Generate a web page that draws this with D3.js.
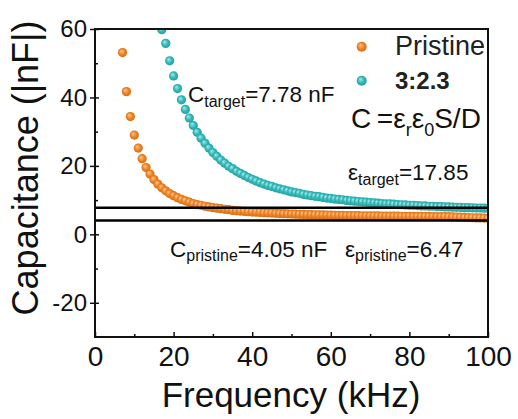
<!DOCTYPE html>
<html>
<head>
<meta charset="utf-8">
<script src="https://cdn.jsdelivr.net/npm/d3@7"></script>
<style>
  body { margin: 0; background: #fff; }
  svg { display: block; }
</style>
</head>
<body>
<div id="chart"></div>
<script>
// Frequency sweep (kHz) and capacitance (nF)
const freq = [7,8,9,10,11,12,13,14,15,16,17,18,19,20,21,22,23,24,25,26,27,28,29,30,31,32,33,34,35,36,37,38,39,40,41,42,43,44,45,46,47,48,49,50,51,52,53,54,55,56,57,58,59,60,61,62,63,64,65,66,67,68,69,70,71,72,73,74,75,76,77,78,79,80,81,82,83,84,85,86,87,88,89,90,91,92,93,94,95,96,97,98,99,100];

const pristineC = [53.1,41.7,34.4,29.0,25.2,22.1,19.5,17.6,16.0,14.7,
  13.6,12.7,11.9,11.3,10.7,10.2,9.8,9.4,9.0,8.7,
  8.5,8.2,8.0,7.8,7.65,7.5,7.3,7.2,7.0,6.9,
  6.8,6.7,6.6,6.5,6.45,6.4,6.3,6.25,6.2,6.13,
  6.08,6.03,5.98,5.94,5.9,5.86,5.82,5.78,5.75,5.72,
  5.69,5.66,5.63,5.6,5.58,5.56,5.54,5.51,5.49,5.47,
  5.45,5.43,5.42,5.4,5.39,5.37,5.36,5.34,5.33,5.32,
  5.3,5.29,5.28,5.27,5.26,5.25,5.24,5.23,5.22,5.21,
  5.2,5.19,5.18,5.17,5.1,5.05,5.0,4.95,4.9,4.85,
  4.8,4.8,4.75,4.7];

const targetC = [null,null,null,null,null,null,null,null,null,null,
  59.8,55.8,50.7,46.3,42.6,39.3,36.5,34.0,31.8,29.8,
  28.1,26.6,25.2,23.9,22.8,21.7,20.8,19.9,19.2,18.4,
  17.8,17.2,16.6,16.1,15.6,15.1,14.7,14.3,14.0,13.6,
  13.3,13.0,12.7,12.4,12.2,12.0,11.7,11.5,11.3,11.1,
  11.0,10.8,10.6,10.5,10.3,10.2,10.1,9.9,9.8,9.7,
  9.6,9.5,9.4,9.3,9.2,9.1,9.0,8.9,8.9,8.8,
  8.7,8.65,8.6,8.5,8.5,8.4,8.3,8.3,8.2,8.2,
  8.1,8.1,8.0,8.0,7.95,7.9,7.9,7.8,7.8,7.75,
  7.7,7.7,7.65,7.6];

const refLines = [7.78, 4.05];
const xTicks = [0, 20, 40, 60, 80, 100];
const xMinor = [10, 30, 50, 70, 90];
const yTicks = [60, 40, 20, 0, -20];
const yMinor = [50, 30, 10, -10];

const width = 518, height = 419;
const font = "'Liberation Sans', Arial, sans-serif";

const svg = d3.select('#chart').append('svg')
    .attr('width', width)
    .attr('height', height)
    .style('font-family', font);

const x = d3.scaleLinear().domain([0, 100]).range([95, 488]);
const y = d3.scaleLinear().domain([-30, 60]).range([337, 29]);

// sphere-like markers
const defs = svg.append('defs');
function sphere(id, light, mid, dark) {
    const g = defs.append('radialGradient').attr('id', id)
        .attr('cx', '50%').attr('cy', '50%').attr('r', '55%')
        .attr('fx', '35%').attr('fy', '32%');
    g.append('stop').attr('offset', '0%').attr('stop-color', light);
    g.append('stop').attr('offset', '55%').attr('stop-color', mid);
    g.append('stop').attr('offset', '100%').attr('stop-color', dark);
}
sphere('gOrange', '#ffc68c', '#f08424', '#d2690e');
sphere('gCyan', '#a6ecec', '#33b9b9', '#1f9c9c');

defs.append('clipPath').attr('id', 'plotClip')
    .append('rect')
    .attr('x', x(0)).attr('y', y(60))
    .attr('width', x(100) - x(0)).attr('height', y(-30) - y(60));

// axes
const xAxis = svg.append('g')
    .attr('transform', `translate(0,${y(-30)})`)
    .call(d3.axisBottom(x).tickValues(xTicks).tickSize(-5).tickPadding(9.5).tickFormat(d => String(d)));
svg.append('g')
    .attr('transform', `translate(0,${y(-30)})`)
    .call(d3.axisBottom(x).tickValues(xMinor).tickSize(-3).tickFormat(''));

const yAxis = svg.append('g')
    .attr('transform', `translate(${x(0)},0)`)
    .call(d3.axisLeft(y).tickValues(yTicks).tickSize(5).tickPadding(3).tickFormat(d => String(d)));
svg.append('g')
    .attr('transform', `translate(${x(0)},0)`)
    .call(d3.axisLeft(y).tickValues(yTicks).tickSize(-4).tickFormat(''));
svg.append('g')
    .attr('transform', `translate(${x(0)},0)`)
    .call(d3.axisLeft(y).tickValues(yMinor).tickSize(-3).tickFormat(''));

svg.selectAll('.domain').remove();
svg.selectAll('.tick line').attr('stroke', '#111').attr('stroke-width', 1.5);
xAxis.selectAll('text').attr('font-size', 28).attr('font-family', font).attr('fill', '#111');
yAxis.selectAll('text').attr('font-size', 24).attr('font-family', font).attr('fill', '#111');

// data points
const plot = svg.append('g').attr('clip-path', 'url(#plotClip)');
const series = [
    { values: pristineC, fill: 'url(#gOrange)' },
    { values: targetC, fill: 'url(#gCyan)' }
];
series.forEach(s => {
    plot.append('g').selectAll('circle')
        .data(freq.map((f, i) => [f, s.values[i]]).filter(d => d[1] != null))
        .join('circle')
        .attr('cx', d => x(d[0]))
        .attr('cy', d => y(d[1]))
        .attr('r', 4.6)
        .attr('fill', s.fill);
});

// reference capacitance lines
plot.selectAll('line.ref')
    .data(refLines)
    .join('line')
    .attr('class', 'ref')
    .attr('x1', x(0)).attr('x2', x(100))
    .attr('y1', d => y(d)).attr('y2', d => y(d))
    .attr('stroke', '#000')
    .attr('stroke-width', 2.4);

// frame
svg.append('rect')
    .attr('x', x(0)).attr('y', y(60))
    .attr('width', x(100) - x(0)).attr('height', y(-30) - y(60))
    .attr('fill', 'none')
    .attr('stroke', '#111')
    .attr('stroke-width', 2);

// text with subscripts
function richText(px, py, size, subSize, subShift, parts, weight) {
    const t = svg.append('text')
        .attr('x', px).attr('y', py)
        .attr('font-size', size)
        .attr('font-weight', weight || 'normal')
        .attr('fill', '#111');
    let shift = 0;
    parts.forEach(([s, sub]) => {
        const dy = sub ? subShift : 0;
        t.append('tspan')
            .attr('dy', dy - shift)
            .attr('font-size', sub ? subSize : size)
            .text(s);
        shift = dy;
    });
    return t;
}

richText(188, 101.7, 22.5, 16, 5, [['C'], ['target', true], ['=7.78 nF']]);
richText(170, 256.7, 22.5, 16, 4, [['C'], ['pristine', true], ['=4.05 nF']]);
richText(345, 256.7, 22.5, 16, 4, [['ε'], ['pristine', true], ['=6.47']]);
richText(348, 180, 22.5, 16, 5, [['ε'], ['target', true], ['=17.85']]);
richText(351, 128, 28, 18, 8, [['C\u2009=ε'], ['r', true], ['ε'], ['0', true], ['S/D']]);

// legend
const legend = [
    { label: 'Pristine', fill: 'url(#gOrange)', y: 46.7, size: 27, weight: 'normal' },
    { label: '3:2.3', fill: 'url(#gCyan)', y: 80.7, size: 24, weight: 'bold' }
];
legend.forEach(d => {
    svg.append('circle').attr('cx', 361.7).attr('cy', d.y).attr('r', 5).attr('fill', d.fill);
    svg.append('text')
        .attr('x', 395).attr('y', d.y + 8.5)
        .attr('font-size', d.size)
        .attr('font-weight', d.weight)
        .attr('fill', '#222')
        .text(d.label);
});

// axis titles
svg.append('text')
    .attr('x', 291).attr('y', 407)
    .attr('text-anchor', 'middle')
    .attr('font-size', 35)
    .attr('fill', '#111')
    .text('Frequency (kHz)');

svg.append('text')
    .attr('transform', 'translate(38,168) rotate(-90)')
    .attr('text-anchor', 'middle')
    .attr('font-size', 36)
    .attr('fill', '#111')
    .text('Capacitance (|nF|)');
</script>
</body>
</html>
